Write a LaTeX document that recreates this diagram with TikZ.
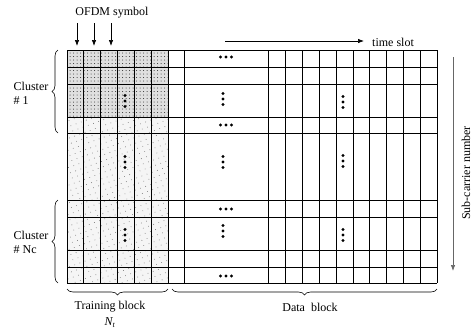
\documentclass[tikz,border=0pt]{standalone}
\usepackage{fontspec}
\setmainfont{Liberation Serif}
\usetikzlibrary{arrows.meta,decorations.pathreplacing,patterns.meta}
\begin{document}
\begin{tikzpicture}[x=1pt,y=-1pt,
  gridline/.style={line width=0.75pt, black},
  lbl/.style={font=\fontsize{12}{14}\selectfont, inner sep=0pt},
  arr/.style={-{Latex[length=6pt,width=4.5pt]}, line width=0.7pt},
  brc/.style={decorate, decoration={brace, amplitude=6pt}, line width=0.6pt},
  dense/.style={fill=gray!25, postaction={pattern={Dots[distance=3.5pt,radius=0.5pt]}, pattern color=black!85}},
  light/.style={fill=gray!8, postaction={pattern={Dots[distance=5.5pt,radius=0.45pt,angle=20]}, pattern color=black!55}},
  dotmark/.style={fill=black},
]
\useasboundingbox (0,0) rectangle (474,333);
% shading of the training block
\path[light] (67,50) rectangle (168,283);
\path[dense] (67,50) rectangle (168,117);
% vertical grid lines
\foreach \i in {0,1,2,3,4,5,6,7,12,13,14,15,16,17,18,19,20,21,22}
  \draw[gridline] ({67+16.818*\i},50) -- ({67+16.818*\i},283);
% horizontal grid lines
\foreach \y in {50,67,84,117,133,200,217,250,267,283}
  \draw[gridline] (67,\y) -- (437,\y);
% horizontal dots
\foreach \x/\y in {226/57, 226/125, 226/209, 226/276}
  \foreach \d in {-5.5,0,5.5}
    \fill[dotmark] ({\x+\d},\y) circle (1.6pt);
% vertical dots
\foreach \x/\y in {125/101, 125/162, 125/235, 223/99, 223/162, 223/231, 343/102, 343/161, 343/235}
  \foreach \d in {-5.5,0,5.5}
    \fill[dotmark] (\x,{\y+\d}) circle (1.6pt);
% OFDM symbol label and arrows
\node[lbl] (ofdm) at (112,13) {OFDM symbol};
\coordinate (a1s) at (77,23);  \coordinate (a1e) at (77,46);
\coordinate (a2s) at (94,23);  \coordinate (a2e) at (94,46);
\coordinate (a3s) at (111,23); \coordinate (a3e) at (111,46);
\draw[arr] (a1s) -- (a1e);
\draw[arr] (a2s) -- (a2e);
\draw[arr] (a3s) -- (a3e);
% time slot
\node[lbl] (ts) at (393,42) {time slot};
\coordinate (tsS) at (225,41);
\coordinate (tsE) at (364,41);
\draw[arr] (tsS) -- (tsE);
% sub-carrier number
\node[lbl, rotate=90] (sc) at (466,173) {Sub-carrier number};
\coordinate (scS) at (453,57);
\coordinate (scE) at (453,271);
\draw[arr, draw=black!60, fill=black] (scS) -- (scE);
% clusters
\node[lbl, align=left] (c1) at (31,93) {Cluster\\\# 1};
\node[lbl, align=left] (cn) at (31,242) {Cluster\\\# Nc};
\draw[brc] (58,133) -- (58,50);
\draw[brc] (58,283) -- (58,200);
% bottom braces
\draw[brc] (168,289) -- (67,289);
\draw[brc] (437,289) -- (172,289);
\node[lbl] (tb) at (110,307) {Training block};
\node[lbl] (nt) at (110,323) {\itshape N\textsubscript{t}};
\node[lbl] (db) at (310,307) {Data\ \ block};
\end{tikzpicture}
\end{document}
